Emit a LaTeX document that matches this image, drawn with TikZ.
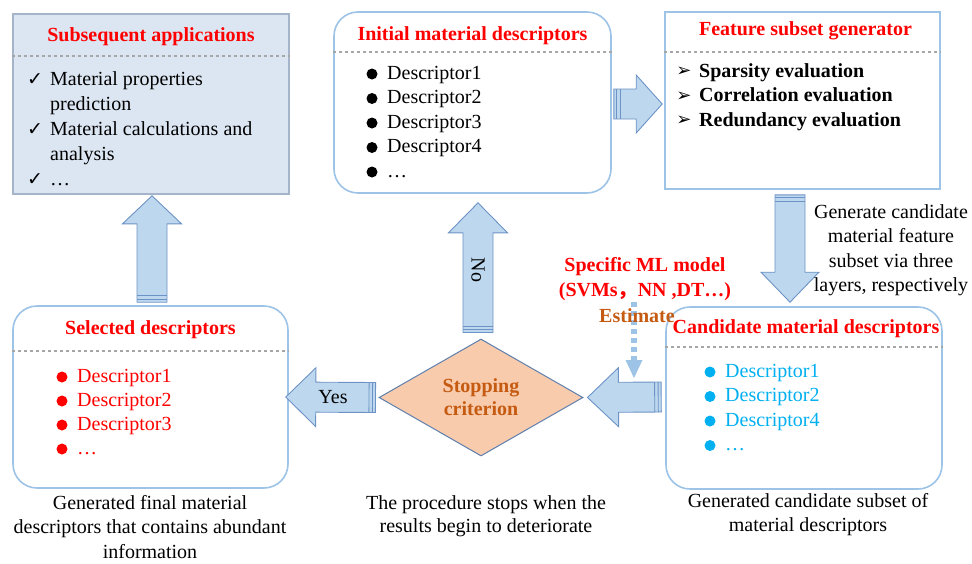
\documentclass[tikz,border=0pt]{standalone}
\usepackage{fontspec}
\setmainfont{Liberation Serif}
\newfontfamily\symfont{DejaVu Sans}
\newfontfamily\cjk{Noto Sans CJK SC}
\usetikzlibrary{calc}
\usetikzlibrary{shapes.geometric}

\definecolor{boxline}{HTML}{9DC3E6}
\definecolor{appfill}{HTML}{DCE6F2}
\definecolor{appline}{HTML}{A5B4C8}
\definecolor{arrfill}{HTML}{BDD7EE}
\definecolor{arrline}{HTML}{6D93C6}
\definecolor{diafill}{HTML}{F8CBAD}
\definecolor{dialine}{HTML}{5E7FAE}
\definecolor{estcol}{HTML}{C55A11}
\definecolor{candcol}{HTML}{00B0F0}
\definecolor{sepgray}{HTML}{A6A6A6}

% striped block arrow: tail, tip, shaft half width, head half width, head length
\newcommand{\blockarrow}[5]{%
  \coordinate (ba-head) at ($(#2)!#5!(#1)$);
  \draw[barrow] ($(#1)!#3!90:(#2)$) -- ($(ba-head)!#3!90:(#2)$) -- ($(ba-head)!#4!90:(#2)$) -- (#2)
    -- ($(ba-head)!#4!-90:(#2)$) -- ($(ba-head)!#3!-90:(#2)$) -- ($(#1)!#3!-90:(#2)$) -- cycle;
  \foreach \bardist in {3pt,6.5pt}{
    \coordinate (ba-bar) at ($(#1)!\bardist!(#2)$);
    \draw[barrow] ($(ba-bar)!#3!90:(#2)$) -- ($(ba-bar)!#3!-90:(#2)$);
  }
}

\tikzset{
  every node/.style={font=\fontsize{20}{24.5}\selectfont},
  panel/.style={draw=boxline, line width=1.6pt, fill=white},
  boxtitle/.style={font=\fontsize{20}{24.5}\selectfont\bfseries, text=red},
  sepline/.style={draw=sepgray, dashed, line width=1.5pt},
  itemtext/.style={anchor=west, inner sep=0pt, text height=14pt, text depth=4pt},
  checkmk/.style={font=\symfont\fontsize{19}{19}\selectfont, inner sep=0pt},
  barrow/.style={draw=arrline, fill=arrfill, line width=0.9pt},
  notetext/.style={align=center, inner sep=0pt},
  estline/.style={draw=boxline, line width=5.5pt, dash pattern=on 5pt off 4pt}
}

\begin{document}
\begin{tikzpicture}[x=1pt,y=-1pt]
\useasboundingbox (0,0) rectangle (972,563);

% boxes
\node[panel, fill=appfill, draw=appline, minimum width=276pt, minimum height=180pt] (apps) at (151,104) {};
\node[panel, rounded corners=24pt, minimum width=277pt, minimum height=181pt] (init) at (472.5,102.5) {};
\node[panel, minimum width=275pt, minimum height=177pt] (feat) at (802.5,100.5) {};
\node[panel, rounded corners=24pt, minimum width=276pt, minimum height=182pt] (cand) at (804,398) {};
\node[panel, rounded corners=24pt, minimum width=275pt, minimum height=182pt] (sel) at (150.5,397) {};

% titles and separators
\node[boxtitle] (apps-t) at ($(apps.north)+(0,23)$) {Subsequent applications};
\node[boxtitle] (init-t) at ($(init.north)+(0,24)$) {Initial material descriptors};
\node[boxtitle] (feat-t) at ($(feat.north)+(3,20)$) {Feature subset generator};
\node[boxtitle] (cand-t) at ($(cand.north)+(2,22)$) {Candidate material descriptors};
\node[boxtitle] (sel-t) at ($(sel.north)+(0,24)$) {Selected descriptors};
\draw[sepline] ([yshift=-43pt]apps.north west) -- ([yshift=-43pt]apps.north east);
\draw[sepline] ([yshift=-41pt]init.north west) -- ([yshift=-41pt]init.north east);
\draw[sepline] ([yshift=-41pt]feat.north west) -- ([yshift=-41pt]feat.north east);
\draw[sepline] ([yshift=-41pt]cand.north west) -- ([yshift=-41pt]cand.north east);
\draw[sepline] ([yshift=-46pt]sel.north west) -- ([yshift=-46pt]sel.north east);

% lists
\foreach \t [count=\i] in {Material properties,prediction,Material calculations and,analysis,…}
  \node[itemtext] (apps-\i) at (50,55+25*\i) {\t};
\foreach \i in {1,3,5}
  \node[checkmk] (apps-c\i) at (35,55+25*\i) {✓};
\foreach \t [count=\i] in {Descriptor1,Descriptor2,Descriptor3,Descriptor4,…}{
  \fill (372,49.5+24.5*\i) circle (5.5pt);
  \node[itemtext] (init-\i) at (387,49.5+24.5*\i) {\t};
}
\foreach \t [count=\i] in {Sparsity evaluation,Correlation evaluation,Redundancy evaluation}{
  \node[checkmk, font=\symfont\fontsize{18}{18}\selectfont] (feat-m\i) at (684,47.5+24.5*\i) {➢};
  \node[itemtext, font=\fontsize{20}{24.5}\selectfont\bfseries] (feat-\i) at (699,47.5+24.5*\i) {\t};
}
\foreach \t [count=\i] in {Descriptor1,Descriptor2,Descriptor4,…}{
  \fill[candcol] (710,347.5+24.5*\i) circle (5.5pt);
  \node[itemtext, text=candcol] (cand-\i) at (725,347.5+24.5*\i) {\t};
}
\foreach \t [count=\i] in {Descriptor1,Descriptor2,Descriptor3,…}{
  \fill[red] (62,353+24*\i) circle (5.5pt);
  \node[itemtext, text=red] (sel-\i) at (77,353+24*\i) {\t};
}

% decision
\node[diamond, draw=dialine, fill=diafill, line width=1pt, minimum width=204pt, minimum height=117pt,
  aspect=1.74, inner sep=0pt, align=center, text=estcol,
  font=\fontsize{20}{23}\selectfont\bfseries] (stop) at (481,397.5) {Stopping\\criterion};

% block arrows
\coordinate (up-tail) at ($(sel.north)+(1.5,-3)$);
\coordinate (up-tip) at ($(apps.south)+(1,1)$);
\coordinate (rt-tail) at ($(init.east)+(2,1.5)$);
\coordinate (rt-tip) at ($(feat.west)+(-2,3.5)$);
\coordinate (dn-tail) at ($(feat.south)+(-12.5,5)$);
\coordinate (dn-tip) at ($(cand.north)+(-14,-4)$);
\coordinate (lt-tail) at ($(cand.west)+(-4,-1)$);
\coordinate (lt-tip) at ($(stop.east)+(4,0)$);
\coordinate (yes-tail) at ($(stop.west)+(-3,0)$);
\coordinate (yes-tip) at ($(sel.east)+(-3,0)$);
\coordinate (no-tail) at ($(stop.north)+(-3,-6)$);
\coordinate (no-tip) at ($(init.south)+(5.5,9)$);
\blockarrow{up-tail}{up-tip}{15pt}{29.5pt}{28pt}
\blockarrow{rt-tail}{rt-tip}{15pt}{29pt}{26pt}
\blockarrow{dn-tail}{dn-tip}{15pt}{29pt}{30pt}
\blockarrow{lt-tail}{lt-tip}{15pt}{29.5pt}{31pt}
\blockarrow{yes-tail}{yes-tip}{15pt}{29.5pt}{30pt}
\blockarrow{no-tail}{no-tip}{15pt}{29.5pt}{30pt}
\node (yes-l) at (333,397) {Yes};
\node[rotate=-90] (no-l) at (478,270) {No};

% model estimate
\node[notetext, text=red, font=\fontsize{20}{25}\selectfont\bfseries] (ml) at (645,279.5)
  {Specific ML model\\(SVMs{\cjk ，}NN ,DT…)};
\coordinate (est-top) at (634,302);
\coordinate (est-head) at (634,360);
\coordinate (est-tip) at (634,378);
\draw[estline] (est-top) -- (est-head);
\fill[boxline] ($(est-head)+(-8.5,0)$) -- ($(est-head)+(8.5,0)$) -- (est-tip) -- cycle;
\node[text=estcol, font=\fontsize{20}{24.5}\selectfont\bfseries, inner sep=0pt] (est) at (637,316) {Estimate};

% notes
\node[notetext] (gen-n) at (891,250) {Generate candidate\\material feature\\subset via three\\layers, respectively};
\node[notetext, font=\fontsize{20}{24.5}\selectfont] (final-n) at (150,527) {Generated final material\\descriptors that contains abundant\\information};
\node[notetext, font=\fontsize{20}{23}\selectfont] (proc-n) at (486,516.5) {The procedure stops when the\\results begin to deteriorate};
\node[notetext, font=\fontsize{20}{24}\selectfont] (cand-n) at (808,515) {Generated candidate subset of\\material descriptors};
\end{tikzpicture}
\end{document}
